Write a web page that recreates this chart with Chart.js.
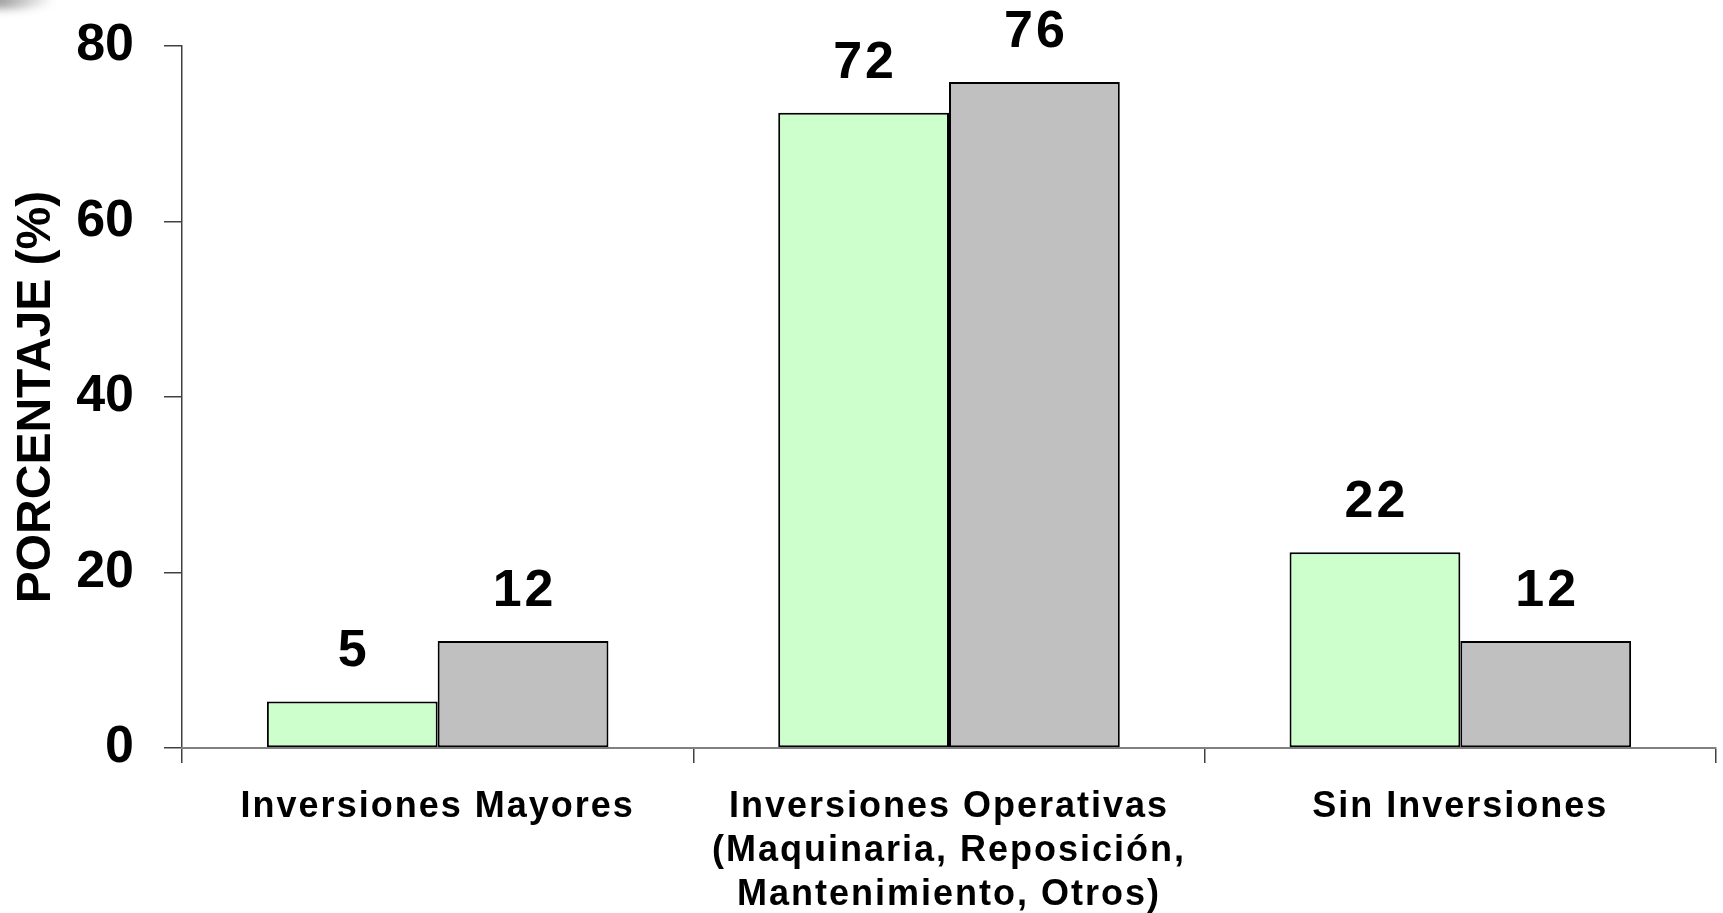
<!DOCTYPE html>
<html>
<head>
<meta charset="utf-8">
<script src="https://cdn.jsdelivr.net/npm/chart.js@4"></script>
<style>
  html, body { margin: 0; padding: 0; background: #ffffff; }
  #graph-container { width: 1723px; height: 913px; }
</style>
</head>
<body>
<div id="graph-container"><canvas id="myChart"></canvas></div>
<script>
// datos del grafico
const categorias = [
  'Inversiones Mayores',
  ['Inversiones Operativas', '(Maquinaria, Reposición,', 'Mantenimiento, Otros)'],
  'Sin Inversiones'
];
const serieVerde = [5.3, 72.4, 22.3];
const serieGris = [12.2, 75.9, 12.2];
const ticksY = [0, 20, 40, 60, 80];

const FUENTE = "'Liberation Sans', Arial, sans-serif";

// etiquetas sobre las barras + espaciado de letras del eje x
const etiquetasPlugin = {
  id: 'etiquetas',
  beforeDraw(chart) {
    const ctx = chart.ctx;
    ctx.save();
    ctx.filter = 'blur(4px)';
    const grad = ctx.createLinearGradient(0, 0, 55, 0);
    grad.addColorStop(0, 'rgba(120,120,120,0.7)');
    grad.addColorStop(1, 'rgba(120,120,120,0)');
    ctx.fillStyle = grad;
    ctx.beginPath();
    ctx.ellipse(8, -3, 48, 12, 0, 0, Math.PI * 2);
    ctx.fill();
    ctx.restore();
  },
  afterDatasetsDraw(chart) {
    const ctx = chart.ctx;
    ctx.save();
    ctx.letterSpacing = '3px';
    ctx.font = 'bold 52px ' + FUENTE;
    ctx.fillStyle = '#000';
    ctx.textAlign = 'center';
    ctx.textBaseline = 'alphabetic';
    chart.data.datasets.forEach((ds, i) => {
      chart.getDatasetMeta(i).data.forEach((bar, j) => {
        ctx.fillText(String(Math.round(ds.data[j])), bar.x + 1.5, bar.y - 35);
      });
    });
    ctx.restore();
    ctx.letterSpacing = '2px';
  },
  afterDraw(chart) {
    chart.ctx.letterSpacing = '0px';
  }
};

const ctx_live = document.getElementById('myChart');
const myChart = new Chart(ctx_live, {
  type: 'bar',
  data: {
    labels: categorias,
    datasets: [{
      label: 'Serie 1',
      data: serieVerde,
      backgroundColor: '#CCFFCC',
      borderColor: '#000000',
      borderWidth: 2,
      borderSkipped: false
    }, {
      label: 'Serie 2',
      data: serieGris,
      backgroundColor: '#C0C0C0',
      borderColor: '#000000',
      borderWidth: 2,
      borderSkipped: false
    }]
  },
  options: {
    responsive: true,
    maintainAspectRatio: false,
    animation: false,
    layout: { padding: { top: 46, right: 7, left: 0, bottom: 0 } },
    datasets: { bar: { categoryPercentage: 0.668, barPercentage: 1 } },
    plugins: {
      legend: { display: false },
      tooltip: { enabled: false }
    },
    scales: {
      x: {
        offset: true,
        grid: {
          z: 1,
          offset: true,
          drawOnChartArea: false,
          drawTicks: true,
          tickLength: 15,
          color: '#404040',
          lineWidth: 1.5
        },
        border: { display: true, color: '#808080', width: 2, z: 1 },
        ticks: {
          z: 1,
          color: '#000',
          padding: 22,
          maxRotation: 0,
          autoSkip: false,
          font: { family: FUENTE, size: 36, weight: 'bold', lineHeight: 1.22 }
        },
        afterFit(scale) { scale.height = 165; }
      },
      y: {
        min: 0,
        max: 80,
        afterBuildTicks(scale) { scale.ticks = ticksY.map(v => ({ value: v })); },
        grid: {
          drawOnChartArea: false,
          drawTicks: true,
          tickLength: 18,
          color: '#404040',
          lineWidth: 1.5
        },
        border: { display: true, color: '#404040', width: 1.5 },
        ticks: {
          color: '#000',
          padding: 30,
          font: { family: FUENTE, size: 52, weight: 'bold' }
        },
        title: {
          display: true,
          text: 'PORCENTAJE (%)',
          color: '#000',
          padding: { top: 8, bottom: 0 },
          font: { family: FUENTE, size: 48, weight: 'bold' }
        },
        afterFit(scale) {
          scale.width = 182;
          scale.paddingTop = 0;
          scale.paddingBottom = 0;
        }
      }
    }
  },
  plugins: [etiquetasPlugin]
});
</script>
</body>
</html>
